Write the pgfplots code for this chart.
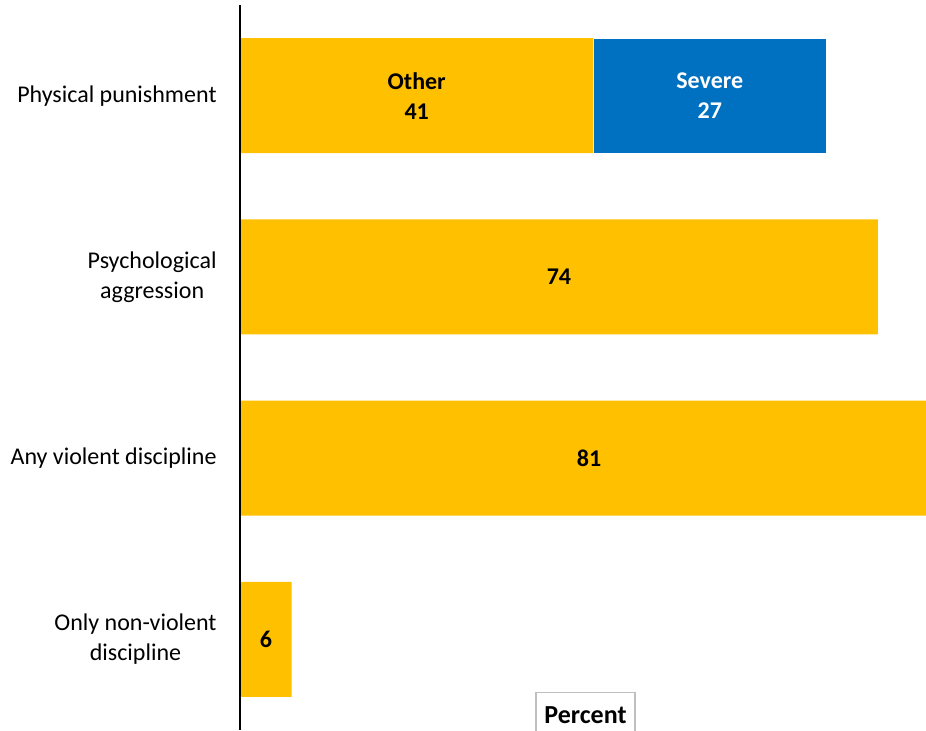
\documentclass[border=0pt]{standalone}
\usepackage{pgfplots}
\pgfplotsset{compat=1.18}
\usepackage{fontspec}
\setmainfont{Carlito}
\definecolor{myyellow}{HTML}{FFC000}
\definecolor{myblue}{HTML}{0070C0}
\begin{document}
\begin{tikzpicture}
\begin{axis}[
  at={(120pt,-2.5pt)}, anchor=north west,
  scale only axis, width=343pt, height=362.5pt,
  xbar stacked, bar width=0.634,
  xmin=0, xmax=79.58, ymin=-0.5, ymax=3.5, y dir=reverse,
  axis x line=none, axis y line*=left,
  y axis line style={black, line width=0.8pt, -},
  xtick=\empty,
  ytick={0,1,2,3},
  yticklabels={Physical punishment, Psychological\\aggression, Any violent discipline, Only non-violent\\discipline},
  yticklabel style={align=center, inner sep=0pt, xshift=-11.5pt, font=\fontsize{12}{15}\selectfont},
  major tick length=0pt,
  axis on top,
]
\addplot[fill=myyellow, draw=none] coordinates {(41,0) (74,1) (81,2) (6,3)};
\addplot[fill=myblue, draw=white, line width=0.5pt] coordinates {(27,0)};
\coordinate (lOther) at (axis cs:20.5,0);
\coordinate (lSevere) at (axis cs:54.5,0);
\coordinate (lPsy) at (axis cs:37,1);
\coordinate (lAny) at (axis cs:40.5,2);
\coordinate (lOnly) at (axis cs:3,3);
\end{axis}
\node[font=\bfseries\fontsize{12}{15}\selectfont, align=center] at (lOther) {Other\\41};
\node[font=\bfseries\fontsize{12}{15}\selectfont, align=center, text=white] at (lSevere) {Severe\\27};
\node[font=\bfseries\fontsize{12}{15}\selectfont] at (lPsy) {74};
\node[font=\bfseries\fontsize{12}{15}\selectfont] at (lAny) {81};
\node[font=\bfseries\fontsize{12}{15}\selectfont] at (lOnly) {6};
\node[draw=gray!50, line width=0.6pt, font=\bfseries\fontsize{13}{15}\selectfont, inner xsep=4.25pt, inner ysep=7pt, anchor=north] at (292.75pt,-346pt) {Percent};
\pgfresetboundingbox
\useasboundingbox (0,0) rectangle (463pt,-365pt);
\end{tikzpicture}
\end{document}
